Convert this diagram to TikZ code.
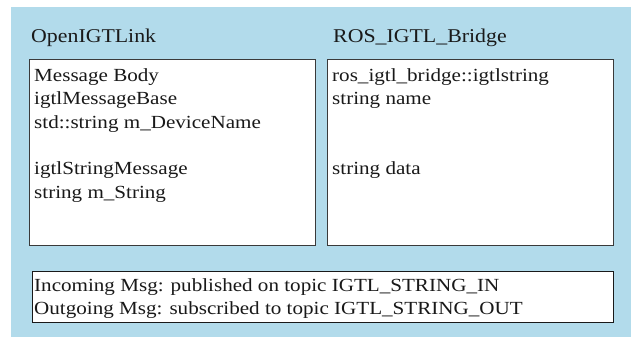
\documentclass[tikz,border=0pt]{standalone}
\usepackage{fontspec}
\setmainfont{Liberation Serif}
\newfontfamily\widetitle[FakeStretch=1.12]{Liberation Serif}
\newfontfamily\widebody[FakeStretch=1.14]{Liberation Serif}
\definecolor{panelblue}{HTML}{B2DBEB}
\definecolor{boxline}{HTML}{3A3A3A}
\begin{document}
\begin{tikzpicture}[x=1pt,y=-1pt,
  panel/.style={fill=panelblue,draw=none},
  msgbox/.style={draw=boxline,fill=white,line width=0.8pt},
  title/.style={anchor=base west,inner sep=0pt,font=\widetitle\fontsize{19.5}{24}\selectfont,text=black!90},
  line/.style={anchor=base west,inner sep=0pt,font=\widebody\fontsize{18.5}{22}\selectfont,text=black!90}]
\useasboundingbox (0,0) rectangle (631,338);
\fill[panel] (11,7) rectangle (631,337);
% message boxes
\draw[msgbox] (29.5,59) rectangle (315,245);
\draw[msgbox] (327,59) rectangle (613,245);
\draw[msgbox,draw=black!90] (32,271) rectangle (613,322);
% column titles
\node[title] (t1) at (31,42) {OpenIGTLink};
\node[title] (t2) at (333,42) {ROS\_IGTL\_Bridge};
% OpenIGTLink message
\node[line] (l1) at (34,81) {Message Body};
\node[line] (l2) at (34,104.5) {igtlMessageBase};
\node[line] (l3) at (34,128) {std::string m\_DeviceName};
\node[line] (l4) at (34,174.5) {igtlStringMessage};
\node[line] (l5) at (34,198) {string m\_String};
% ROS message
\node[line] (r1) at (332,81) {ros\_igtl\_bridge::igtlstring};
\node[line] (r2) at (332,104.5) {string name};
\node[line] (r3) at (332,174.5) {string data};
% topics
\node[line] (b1) at (34,291.5) {Incoming Msg: published on topic IGTL\_STRING\_IN};
\node[line] (b2) at (34,314) {Outgoing Msg: subscribed to topic IGTL\_STRING\_OUT};
\end{tikzpicture}
\end{document}
